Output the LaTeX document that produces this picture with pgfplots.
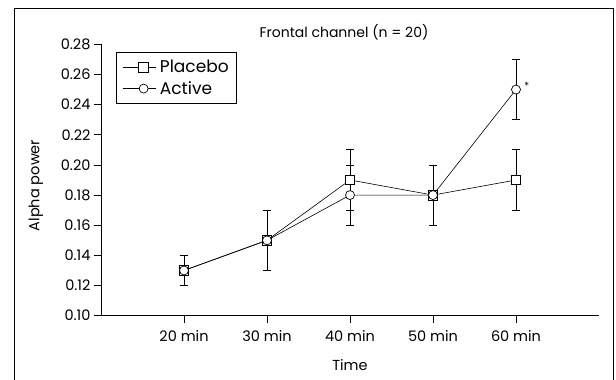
\documentclass[border=0pt]{standalone}
\usepackage{pgfplots}
\pgfplotsset{compat=1.18}
\usepackage{fontspec}
\setmainfont{Poppins}
\begin{document}
\begin{tikzpicture}
\useasboundingbox (-101pt,-64.3pt) rectangle (515pt,315.7pt);
\draw[line width=0.8pt] (-87pt,-64.3pt) -- (-87pt,307.4pt) -- (512pt,307.4pt) -- (512pt,-64.3pt);
\begin{axis}[
  at={(0pt,0pt)}, anchor=south west,
  scale only axis, width=498pt, height=271.4pt,
  xmin=-1, xmax=5, ymin=0.10, ymax=0.28,
  axis x line*=bottom, axis y line*=left,
  axis line style={-, line width=0.8pt},
  xtick={0,1,2,3,4},
  xticklabels={20 min,30 min,40 min,50 min,60 min},
  ytick={0.10,0.12,0.14,0.16,0.18,0.20,0.22,0.24,0.26,0.28},
  yticklabel style={/pgf/number format/.cd, fixed, fixed zerofill, precision=2},
  xticklabel style={yshift=-4pt},
  /pgf/number format/assume math mode=true,
  tick align=outside, major tick length=7pt,
  tick style={line width=0.8pt, black},
  ticklabel style={font=\fontsize{14.5}{16}\selectfont},
  label style={font=\fontsize{14.5}{16}\selectfont},
  title style={font=\fontsize{14}{16}\selectfont, at={(axis description cs:0.488,1.024)}, anchor=center},
  title={Frontal channel (n = 20)},
  xlabel={Time}, ylabel={Alpha power},
  xlabel style={at={(axis description cs:0.5,-0.182)}, anchor=center},
  ylabel style={at={(axis description cs:-0.1305,0.48)}, anchor=center},
  legend style={at={(axis description cs:0.03,0.972)}, anchor=north west,
    draw=black, line width=0.8pt, font=\fontsize{17}{19}\selectfont,
    inner xsep=6pt, inner ysep=6pt, row sep=3pt,
    /tikz/every odd column/.append style={column sep=2pt}},
  legend cell align=left,
  legend image code/.code={\path (-9pt,0pt) -- (24pt,0pt);\draw[mark repeat=2,mark phase=2,line width=0.6pt] plot coordinates {(0pt,0pt) (12pt,0pt) (24pt,0pt)};},
  error bars/error bar style={line width=0.7pt, black},
  error bars/error mark=-,
  error bars/error mark options={rotate=90, mark size=4pt, line width=0.7pt, black},
]
\addplot[black, line width=0.6pt, mark=square*, mark options={fill=white, mark size=4.8pt, line width=0.7pt},
  error bars/.cd, y dir=both, y explicit]
  coordinates {(0,0.13) +- (0,0.01) (1,0.15) +- (0,0.02) (2,0.19) +- (0,0.02) (3,0.18) +- (0,0.02) (4,0.19) +- (0,0.02)};
\addlegendentry{Placebo}
\addplot[black, line width=0.6pt, mark=*, mark options={fill=white, mark size=4.5pt, line width=0.7pt},
  error bars/.cd, y dir=both, y explicit]
  coordinates {(0,0.13) +- (0,0.01) (1,0.15) +- (0,0.02) (2,0.18) +- (0,0.02) (3,0.18) +- (0,0.02) (4,0.25) +- (0,0.02)};
\addlegendentry{Active}
\node[font=\fontsize{10}{12}\selectfont] at (axis cs:4.13,0.2525) {*};
\end{axis}
\end{tikzpicture}
\end{document}
